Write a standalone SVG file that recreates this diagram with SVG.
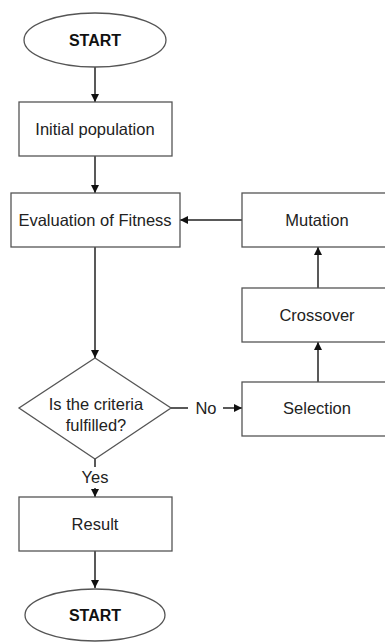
<svg xmlns="http://www.w3.org/2000/svg" width="385" height="642" viewBox="0 0 385 642">
<defs>
<style>
.box{fill:#fff;stroke:#555;stroke-width:1.3}
.ln{fill:none;stroke:#222;stroke-width:1.5}
.t{font-family:"Liberation Sans",Arial,sans-serif;font-size:16.5px;fill:#222;text-anchor:middle}
.b{font-weight:bold;font-size:16px;fill:#111}
</style>
<marker id="ah" viewBox="0 0 10 10" refX="10" refY="5" markerWidth="8" markerHeight="8" markerUnits="userSpaceOnUse" orient="auto">
<path d="M0,0 L10,5 L0,10 z" fill="#111"/>
</marker>
</defs>
<rect width="385" height="642" fill="#fff"/>
<g id="connectors">
<line class="ln" x1="95" y1="67" x2="95" y2="102" marker-end="url(#ah)"/>
<line class="ln" x1="95" y1="156" x2="95" y2="193" marker-end="url(#ah)"/>
<line class="ln" x1="95" y1="247" x2="95" y2="358" marker-end="url(#ah)"/>
<line class="ln" x1="242" y1="220" x2="180" y2="220" marker-end="url(#ah)"/>
<line class="ln" x1="318" y1="288" x2="318" y2="247" marker-end="url(#ah)"/>
<line class="ln" x1="318" y1="382" x2="318" y2="342" marker-end="url(#ah)"/>
<line class="ln" x1="171" y1="408" x2="188" y2="408"/>
<text class="t" x="206" y="414">No</text>
<line class="ln" x1="223" y1="408" x2="242" y2="408" marker-end="url(#ah)"/>
<line class="ln" x1="95" y1="459" x2="95" y2="467"/>
<text class="t" x="95" y="483">Yes</text>
<line class="ln" x1="95" y1="488" x2="95" y2="497" marker-end="url(#ah)"/>
<line class="ln" x1="95" y1="551" x2="95" y2="588" marker-end="url(#ah)"/>
</g>
<g id="start">
<ellipse class="box" cx="95" cy="40" rx="71" ry="27"/>
<text class="t b" x="95" y="46">START</text>
</g>
<g id="initial">
<rect class="box" x="19" y="102" width="153" height="54"/>
<text class="t" x="95" y="135">Initial population</text>
</g>
<g id="evaluation">
<rect class="box" x="11" y="193" width="169" height="54"/>
<text class="t" x="95" y="226">Evaluation of Fitness</text>
</g>
<g id="mutation">
<rect class="box" x="242" y="193" width="152" height="54"/>
<text class="t" x="317" y="226">Mutation</text>
</g>
<g id="crossover">
<rect class="box" x="242" y="288" width="152" height="54"/>
<text class="t" x="317" y="321">Crossover</text>
</g>
<g id="selection">
<rect class="box" x="242" y="382" width="152" height="54"/>
<text class="t" x="317" y="414">Selection</text>
</g>
<g id="decision">
<polygon class="box" points="95,358 171,408 95,459 19,408"/>
<text class="t" x="96" y="410">Is the criteria</text>
<text class="t" x="96" y="431">fulfilled?</text>
</g>
<g id="result">
<rect class="box" x="19" y="497" width="153" height="54"/>
<text class="t" x="95" y="530">Result</text>
</g>
<g id="end">
<ellipse class="box" cx="95" cy="615" rx="70" ry="26"/>
<text class="t b" x="95" y="621">START</text>
</g>
</svg>
